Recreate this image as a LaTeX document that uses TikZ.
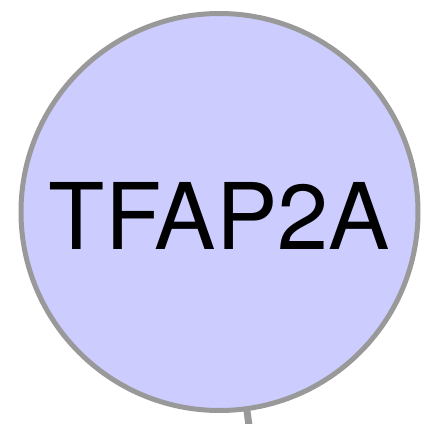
\documentclass[tikz,border=0pt]{standalone}
\usepackage{fontspec}
\setmainfont{TeX Gyre Heros}
\usetikzlibrary{backgrounds}
\definecolor{nodefill}{HTML}{CCCCFF}
\definecolor{edgegray}{HTML}{999999}
\begin{document}
\begin{tikzpicture}[x=1pt,y=-1pt,
  gene/.style={circle, draw=edgegray, line width=5pt, fill=nodefill, minimum size=397pt, inner sep=0pt, font=\fontsize{92}{92}\selectfont},
  link/.style={draw=edgegray, line width=7pt}]
\useasboundingbox (0,0) rectangle (422,424);
\node[gene] (t) at (219.5,212) {\raisebox{-37pt}[0pt][0pt]{TFAP2A}};
\coordinate (e) at (251,440);
\begin{scope}[on background layer]
\draw[link] (t.center) -- (e);
\end{scope}
\end{tikzpicture}
\end{document}
